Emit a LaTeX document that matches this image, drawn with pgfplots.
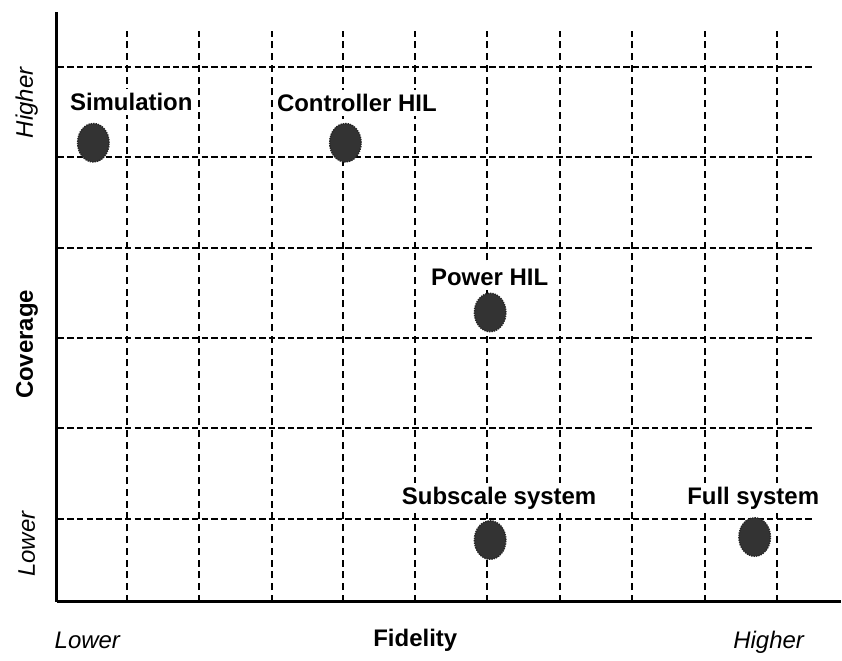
\documentclass[border=0pt]{standalone}
\usepackage{fontspec}
\setmainfont{Liberation Sans}
\usepackage{pgfplots}
\pgfplotsset{compat=1.18}
\definecolor{dot}{HTML}{333333}
\begin{document}
\begin{tikzpicture}
\begin{axis}[
  scale only axis,
  width=392.5pt, height=295.5pt,
  xmin=57, xmax=842, ymin=51, ymax=642,
  axis lines=left,
  axis line style={line width=1.5pt, -},
  xtick=\empty, ytick=\empty,
  clip=false,
]
\path[draw=none] (axis cs:0,0) rectangle (axis cs:842,654);
% vertical grid lines
\pgfplotsinvokeforeach{127,199,272,344,416,488,561,633,706,778}{
  \addplot[black, line width=1pt, dash pattern=on 3.5pt off 2.4pt] coordinates {(#1,51) (#1,623)};
}
% horizontal grid lines
\pgfplotsinvokeforeach{587,497,406,315,225,134}{
  \addplot[black, line width=1pt, dash pattern=on 3.2pt off 1.6pt] coordinates {(58,#1) (815,#1)};
}
% points
\addplot[only marks, mark=*, mark size=7.9pt,
  mark options={fill=dot, draw=black!85, line width=0.7pt, dash pattern=on 0.7pt off 0.5pt, yscale=1.22}]
  coordinates {(93.5,511) (346,511) (491,341) (491,113) (756,116)};
% point labels
\tikzset{lbl/.style={font=\bfseries\fontsize{12}{14}\selectfont, anchor=base, fill=white, inner xsep=1pt, inner ysep=2pt}}
\node[lbl] at (axis cs:131.5,543) {Simulation};
\node[lbl] at (axis cs:357.5,542) {Controller HIL};
\node[lbl] at (axis cs:490.5,368) {Power HIL};
\node[lbl] at (axis cs:500,149) {Subscale system};
\node[lbl] at (axis cs:754.5,149) {Full system};
% axis labels
\node[font=\bfseries\fontsize{12}{14}\selectfont, anchor=base] at (axis cs:416,6) {Fidelity};
\node[font=\itshape\fontsize{12}{14}\selectfont, anchor=base] at (axis cs:87.5,4) {Lower};
\node[font=\itshape\fontsize{12}{14}\selectfont, anchor=base] at (axis cs:770,4) {Higher};
\node[font=\bfseries\fontsize{12}{14}\selectfont, anchor=base, rotate=90] at (axis cs:33,309) {Coverage};
\node[font=\itshape\fontsize{12}{14}\selectfont, anchor=base, rotate=90] at (axis cs:33,551) {Higher};
\node[font=\itshape\fontsize{12}{14}\selectfont, anchor=base, rotate=90] at (axis cs:35,109) {Lower};
\end{axis}
\end{tikzpicture}
\end{document}
